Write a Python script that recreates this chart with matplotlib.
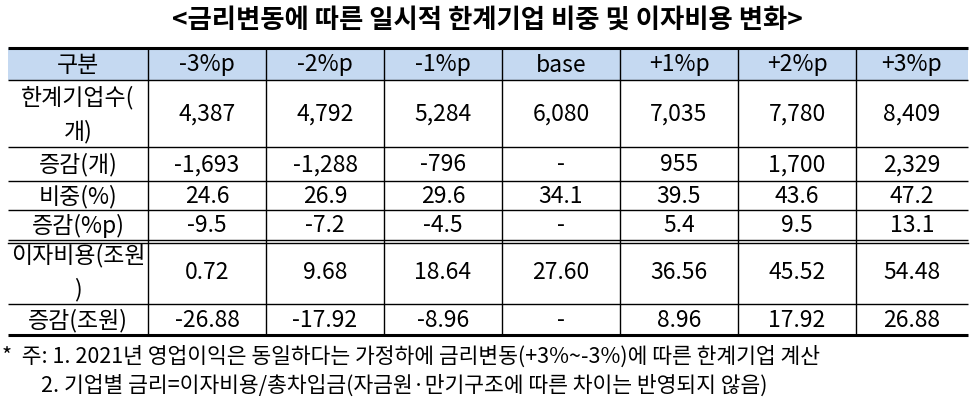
import matplotlib
matplotlib.use("Agg")
import matplotlib.pyplot as plt
from matplotlib.patches import Rectangle

plt.rcParams['font.family'] = ['Noto Sans CJK KR', 'DejaVu Sans']

title = "<금리변동에 따른 일시적 한계기업 비중 및 이자비용 변화>"
columns = ["구분", "-3%p", "-2%p", "-1%p", "base", "+1%p", "+2%p", "+3%p"]
row_labels = ["한계기업수(\n개)", "증감(개)", "비중(%)", "증감(%p)", "이자비용(조원\n)", "증감(조원)"]
firms = ["4,387", "4,792", "5,284", "6,080", "7,035", "7,780", "8,409"]
firms_chg = ["-1,693", "-1,288", "-796", "-", "955", "1,700", "2,329"]
share = ["24.6", "26.9", "29.6", "34.1", "39.5", "43.6", "47.2"]
share_chg = ["-9.5", "-7.2", "-4.5", "-", "5.4", "9.5", "13.1"]
interest = ["0.72", "9.68", "18.64", "27.60", "36.56", "45.52", "54.48"]
interest_chg = ["-26.88", "-17.92", "-8.96", "-", "8.96", "17.92", "26.88"]
notes = ["*  주: 1. 2021년 영업이익은 동일하다는 가정하에 금리변동(+3%~-3%)에 따른 한계기업 계산",
         "        2. 기업별 금리=이자비용/총차입금(자금원·만기구조에 따른 차이는 반영되지 않음)"]
rows = [firms, firms_chg, share, share_chg, interest, interest_chg]

W, H = 974, 402
fig = plt.figure(figsize=(W/100, H/100), dpi=100)
ax = fig.add_axes([0, 0, 1, 1])
ax.set_xlim(0, W); ax.set_ylim(H, 0); ax.axis('off')

xs = [8, 148, 266, 384, 502, 620, 738, 856, 968]
ys = [49, 81, 148, 182, 211, 241, 305, 336]

ax.text(W/2, 20, title, ha='center', va='center', fontsize=19, fontweight='bold')
ax.add_patch(Rectangle((xs[0], ys[0]), xs[-1]-xs[0], ys[1]-ys[0], color='#C5D9F1', lw=0))

fs = 16.5
for i, c in enumerate(columns):
    ax.text((xs[i]+xs[i+1])/2, (ys[0]+ys[1])/2, c, ha='center', va='center', fontsize=fs)
for r, (lab, vals) in enumerate(zip(row_labels, rows)):
    yc = (ys[r+1]+ys[r+2])/2
    ax.text((xs[0]+xs[1])/2, yc, lab, ha='center', va='center', fontsize=fs, linespacing=1.55)
    for j, v in enumerate(vals):
        ax.text((xs[j+1]+xs[j+2])/2, yc, v, ha='center', va='center', fontsize=fs)

for k, y in enumerate(ys):
    lw = 2.2 if k in (0, len(ys)-1) else 1.0
    ax.plot([xs[0], xs[-1]], [y, y], color='black', lw=lw, solid_capstyle='butt')
ax.plot([xs[0], xs[-1]], [ys[5]+3, ys[5]+3], color='black', lw=1.0)
for x in xs[1:-1]:
    ax.plot([x, x], [ys[0], ys[-1]], color='black', lw=1.0)

ax.text(2, 357, notes[0], ha='left', va='center', fontsize=15.5)
ax.text(2, 386, notes[1], ha='left', va='center', fontsize=15.5)

fig.savefig("out.png", dpi=100)
